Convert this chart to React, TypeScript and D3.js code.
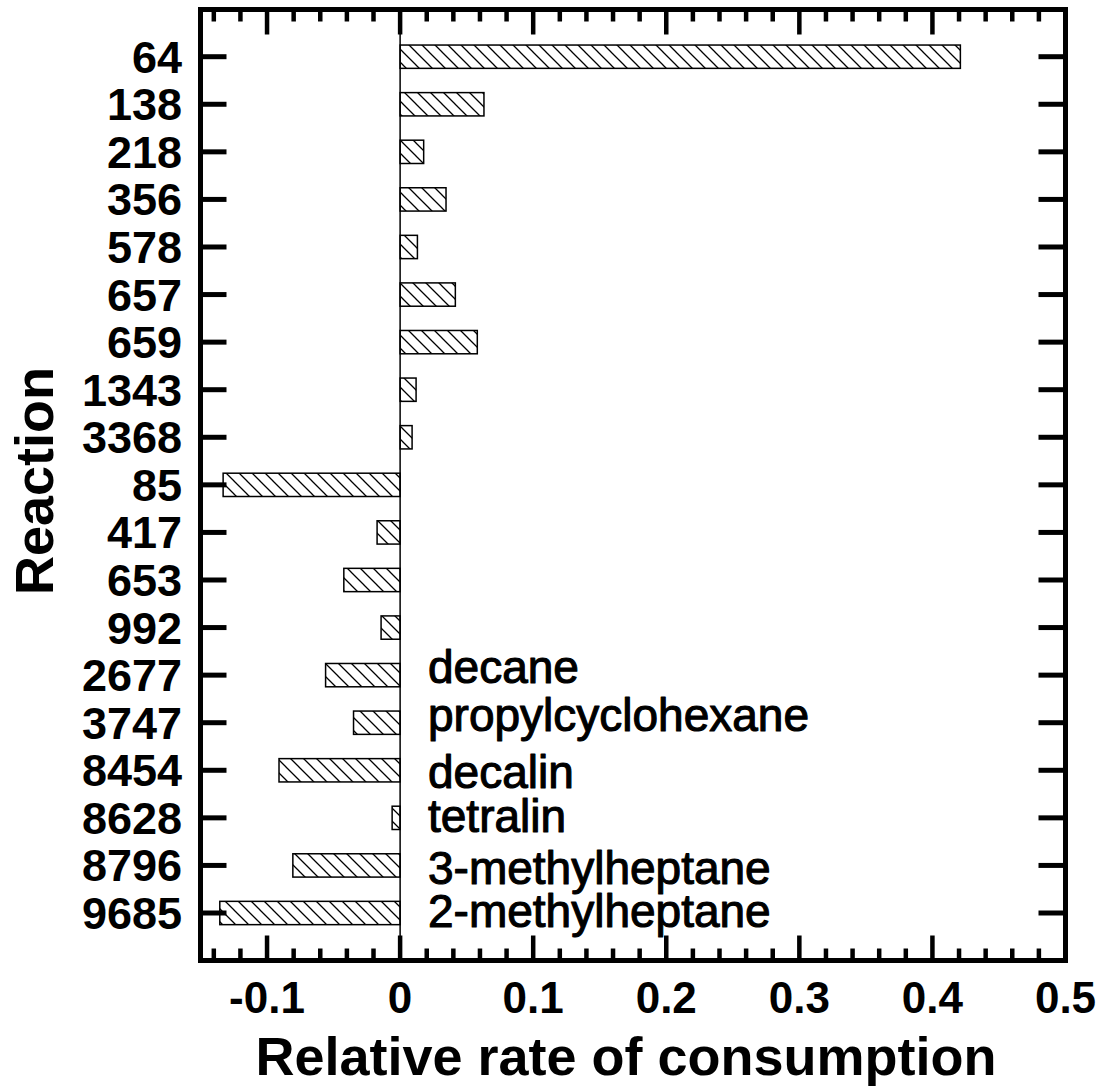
import React from 'react';
import * as d3 from 'd3';

// reaction numbers, top to bottom
const reactions = ['64', '138', '218', '356', '578', '657', '659', '1343', '3368', '85', '417', '653', '992', '2677', '3747', '8454', '8628', '8796', '9685'];
// relative rate of consumption for each reaction
const rates = [0.421, 0.063, 0.0177, 0.0345, 0.013, 0.0415, 0.058, 0.012, 0.009, -0.133, -0.0173, -0.0423, -0.0143, -0.056, -0.035, -0.091, -0.006, -0.0806, -0.1355];
// fuel labels and the rows they sit beside
const fuels = ['decane', 'propylcyclohexane', 'decalin', 'tetralin', '3-methylheptane', '2-methylheptane'];
const fuelRows = ['2677', '3747', '8454', '8628', '8796', '9685'];
const xTicks = [-0.1, 0, 0.1, 0.2, 0.3, 0.4, 0.5];

const W = 1102;
const H = 1087;
const left = 200.5, right = 1065.5, top = 9.5, bottom = 960.5;
const font = '"Liberation Sans", Arial, sans-serif';

const App: React.FC = () => {
  const x = d3.scaleLinear().domain([-0.15, 0.5]).range([left, right]);
  const y = d3.scalePoint<string>().domain(reactions).range([56.7, 913]);
  const barH = y.step() * 0.49;

  const minor = d3.range(-14, 50, 2).map(v => v / 100).filter(v => Math.abs(Math.round(v * 100) % 10) !== 0);
  const labelDy = [8, 8, 18, 14, 19, 14];

  return (
    <svg width={W} height={H} style={{ position: 'absolute', left: 0, top: 0, background: '#fff' }} fontFamily={font}>
      <defs>
        <pattern id="hatch" patternUnits="userSpaceOnUse" width={13} height={13}>
          <path d="M-1,-1 L14,14 M-1,12 L1,14 M12,-1 L14,1" stroke="#000" strokeWidth={1.3} />
        </pattern>
      </defs>

      {/* zero line */}
      <line x1={x(0)} x2={x(0)} y1={top} y2={bottom} stroke="#000" strokeWidth={1.5} />

      {/* bars */}
      {reactions.map((r, i) => {
        const v = rates[i];
        const x0 = x(Math.min(0, v));
        const w = Math.abs(x(v) - x(0));
        return (
          <rect key={r} x={x0} y={(y(r) as number) - barH / 2} width={w} height={barH}
            fill="url(#hatch)" stroke="#000" strokeWidth={1.5} />
        );
      })}

      {/* x ticks top and bottom */}
      {xTicks.map(t => (
        <g key={'M' + t}>
          <line x1={x(t)} x2={x(t)} y1={bottom} y2={bottom - 25} stroke="#000" strokeWidth={4.5} />
          <line x1={x(t)} x2={x(t)} y1={top} y2={top + 25} stroke="#000" strokeWidth={4.5} />
          <text x={x(t)} y={1013} textAnchor="middle" fontSize={44} fontWeight="bold">{String(t)}</text>
        </g>
      ))}
      {minor.map(t => (
        <g key={'m' + t}>
          <line x1={x(t)} x2={x(t)} y1={bottom} y2={bottom - 12} stroke="#000" strokeWidth={4.5} />
          <line x1={x(t)} x2={x(t)} y1={top} y2={top + 12} stroke="#000" strokeWidth={4.5} />
        </g>
      ))}

      {/* y ticks left and right */}
      {reactions.map(r => (
        <g key={'y' + r}>
          <line x1={left} x2={left + 26} y1={y(r)} y2={y(r)} stroke="#000" strokeWidth={5} />
          <line x1={right} x2={right - 27} y1={y(r)} y2={y(r)} stroke="#000" strokeWidth={5} />
          <text x={182} y={(y(r) as number) + 16} textAnchor="end" fontSize={45} fontWeight="bold">{r}</text>
        </g>
      ))}

      {/* frame */}
      <rect x={left} y={top} width={right - left} height={bottom - top} fill="none" stroke="#000" strokeWidth={5} />

      {/* fuel labels */}
      {fuels.map((f, i) => (
        <text key={f} x={428} y={(y(fuelRows[i]) as number) + labelDy[i]} fontSize={46}
          stroke="#000" strokeWidth={1.1} strokeLinejoin="round">{f}</text>
      ))}

      {/* axis titles */}
      <text x={626} y={1075} textAnchor="middle" fontSize={54} fontWeight="bold">Relative rate of consumption</text>
      <text transform="translate(53,481) rotate(-90)" textAnchor="middle" fontSize={54} fontWeight="bold">Reaction</text>
    </svg>
  );
};

export default App;
